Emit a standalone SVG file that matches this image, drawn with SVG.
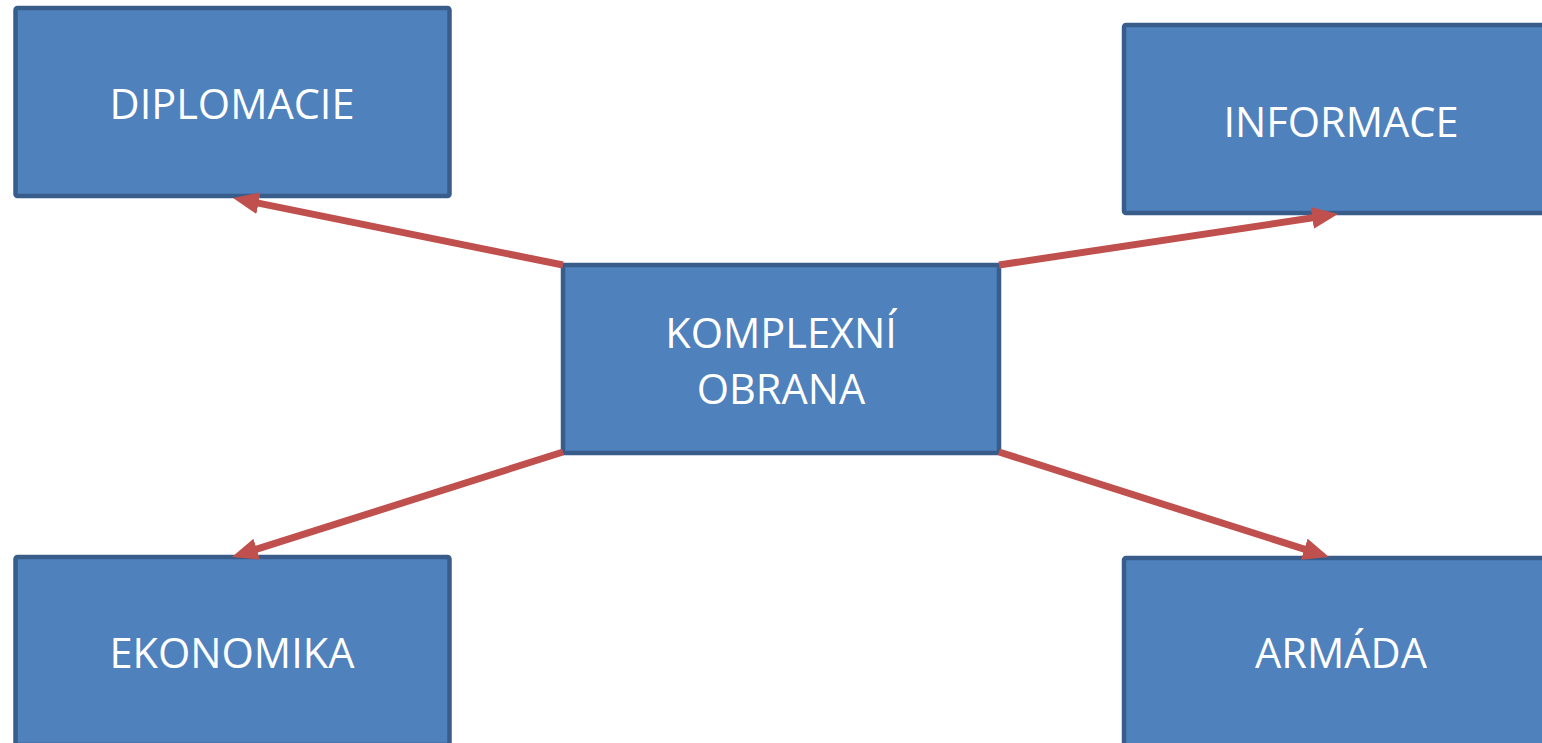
<svg xmlns="http://www.w3.org/2000/svg" width="1542" height="743" viewBox="0 0 1542 743">
<style>
.box{fill:#4F81BD;stroke:#385D8A;stroke-width:4.5}
.lbl{fill:#FFFFFF;font-family:"Open Sans","Liberation Sans",sans-serif;font-size:41.5px;text-anchor:middle}
.con{stroke:#C0504D;stroke-width:7;fill:none}
</style>
<defs>
<marker id="ah" markerUnits="userSpaceOnUse" markerWidth="28" markerHeight="24" refX="14" refY="11" orient="auto">
<path d="M0,0 L26,11 L0,22 z" fill="#C0504D"/>
</marker>
</defs>
<rect width="1542" height="743" fill="#FFFFFF"/>
<g id="diplomacie"><rect class="box" x="15.5" y="8" width="434" height="188" rx="2"/><text class="lbl" x="232" y="119">DIPLOMACIE</text></g>
<g id="informace"><rect class="box" x="1124" y="25" width="434" height="188" rx="2"/><text class="lbl" x="1341" y="137">INFORMACE</text></g>
<g id="komplexni"><rect class="box" x="563" y="265" width="436" height="188" rx="1"/><text class="lbl" x="781" y="348">KOMPLEXNÍ</text><text class="lbl" x="781" y="404">OBRANA</text></g>
<g id="ekonomika"><rect class="box" x="15.5" y="557" width="434" height="188" rx="2"/><text class="lbl" x="232" y="668">EKONOMIKA</text></g>
<g id="armada"><rect class="box" x="1124" y="558" width="434" height="188" rx="2"/><text class="lbl" x="1341" y="668">ARMÁDA</text></g>
<g id="connectors">
<line class="con" x1="563" y1="265" x2="244.8" y2="200.4" marker-end="url(#ah)"/>
<line class="con" x1="999" y1="265" x2="1326.1" y2="215.8" marker-end="url(#ah)"/>
<line class="con" x1="563" y1="452" x2="243.4" y2="553.4" marker-end="url(#ah)"/>
<line class="con" x1="999" y1="452" x2="1317.6" y2="553.4" marker-end="url(#ah)"/>
</g>
</svg>
